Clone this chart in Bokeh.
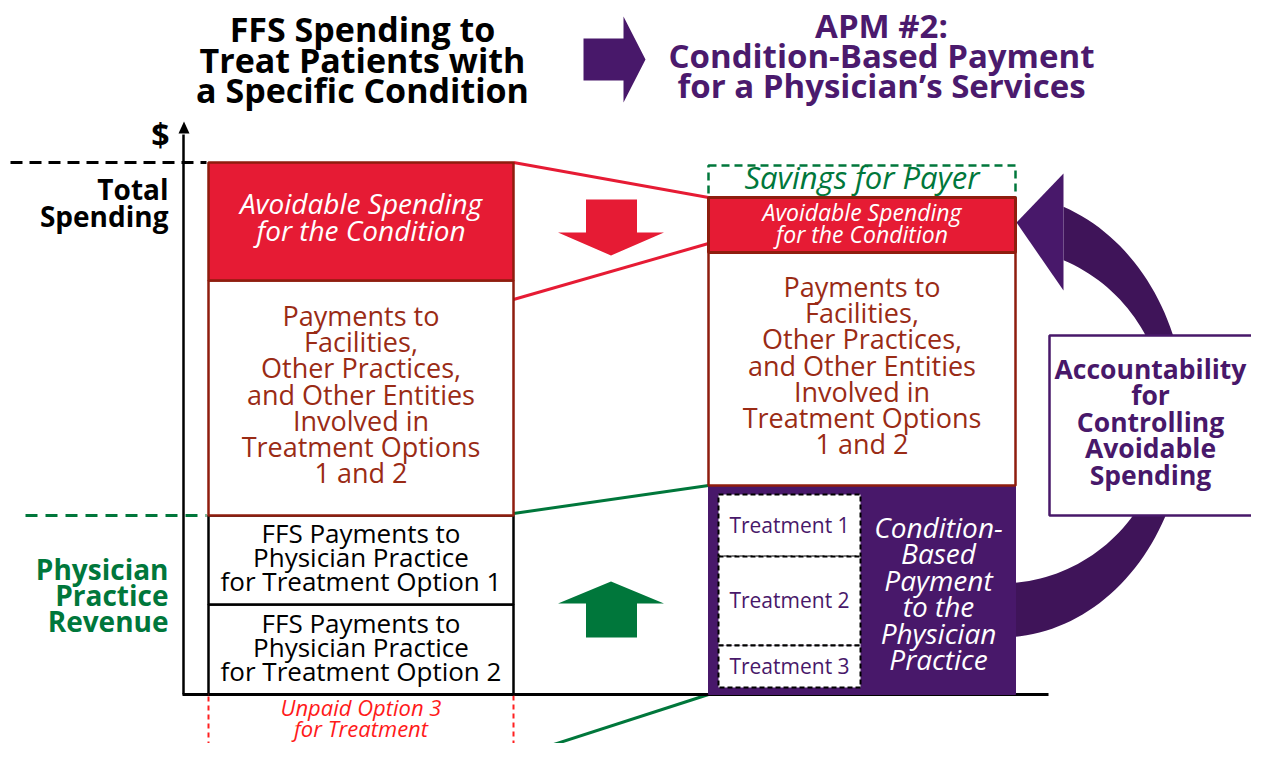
import numpy as np
from bokeh.plotting import figure
from bokeh.models import Range1d
from bokeh.core.properties import value
from bokeh.embed import file_html
from bokeh.resources import INLINE

# ---------------- data (illustrative $ amounts, bottom -> top) ----------------
left_segments = ["FFS Option 2", "FFS Option 1", "Facilities & Other Entities", "Avoidable Spending"]
left_values = [90, 89, 235, 118]
unpaid_option3 = 63                      # shown below the axis (not paid)
right_segments = ["Condition-Based Payment", "Facilities & Other Entities", "Avoidable Spending"]
right_values = [209, 233, 55]
treatment_names = ["Treatment 1", "Treatment 2", "Treatment 3"]   # top -> bottom
treatment_values = [62, 89, 42]

title_left = ["FFS Spending to", "Treat Patients with", "a Specific Condition"]
title_right = ["APM #2:", "Condition-Based Payment", "for a Physician\u2019s Services"]
avoid_lines = ["Avoidable Spending", "for the Condition"]
facility_lines = ["Payments to", "Facilities,", "Other Practices,", "and Other Entities",
                  "Involved in", "Treatment Options", "1 and 2"]
ffs1_lines = ["FFS Payments to", "Physician Practice", "for Treatment Option 1"]
ffs2_lines = ["FFS Payments to", "Physician Practice", "for Treatment Option 2"]
unpaid_lines = ["Unpaid Option 3", "for Treatment"]
cbp_lines = ["Condition-", "Based", "Payment", "to the", "Physician", "Practice"]
account_lines = ["Accountability", "for", "Controlling", "Avoidable", "Spending"]
total_lines = ["Total", "Spending"]
revenue_lines = ["Physician", "Practice", "Revenue"]
savings_label = "Savings for Payer"

# ---------------- colours ----------------
RED = "#e61b34"
BROWN = "#8f1d0e"
BROWN_TXT = "#9a2b15"
GREEN = "#00773b"
PURPLE = "#48186a"
PURPLE_DARK = "#3f1459"
FONT = value("Open Sans")

# ---------------- figure (y = dollars, 1 unit per px) ----------------
p = figure(width=1251, height=743, output_backend="svg", toolbar_location=None,
           x_range=Range1d(0, 1251), y_range=Range1d(-49, 694),
           x_axis_type=None, y_axis_type=None, min_border=0)
p.outline_line_color = None
p.background_fill_color = "white"
p.border_fill_color = "white"

LX0, LX1 = 208, 513        # left column
RX0, RX1 = 708, 1015       # right column

lb = np.concatenate([[0], np.cumsum(left_values)[:-1]])
lt = np.cumsum(left_values)
rb = np.concatenate([[0], np.cumsum(right_values)[:-1]])
rt = np.cumsum(right_values)
total_left = lt[-1]
total_right = rt[-1]
revenue_level = lt[1]


def label(x, yc, lines, size, color, style="normal", lh=None, align="center"):
    n = len(lines)
    lh = lh if lh is not None else size
    yc = yc + 2
    ys = [yc + (n - 1) / 2 * lh - i * lh for i in range(n)]
    p.text(x=[x] * n, y=ys, text=lines, text_font=FONT, text_font_size=f"{size}px",
           text_font_style=style, text_color=color, text_align=align, text_baseline="middle")


# ---------------- curved accountability arrow (behind boxes) ----------------
cx, cy = 1000, total_left - 253
th_o = np.linspace(np.pi / 2, -np.arccos(63 / 185), 80)
th_i = np.linspace(-np.arccos(63 / 165), np.pi / 2, 80)
ax = np.concatenate([cx + 185 * np.cos(th_o), cx + 165 * np.cos(th_i)])
ay = np.concatenate([cy - 222 * np.sin(th_o), cy - 168 * np.sin(th_i)])
p.patch(ax, ay, fill_color=PURPLE_DARK, line_color=None)
tip_y = total_right - 25
p.patch([1016, 1063, 1063], [tip_y, tip_y + 49, tip_y - 68], fill_color=PURPLE, line_color=None)

# accountability box (open to the right edge)
acc_b, acc_t = revenue_level, revenue_level + 180
p.quad(left=[1049], right=[1251], bottom=[acc_b], top=[acc_t], fill_color="white", line_color=None)
p.line([1251, 1049, 1049, 1251], [acc_t, acc_t, acc_b, acc_b], line_color=PURPLE, line_width=2.5)
label(1150, revenue_level + 92, account_lines, 26.5, PURPLE, "bold", lh=26.5)

# ---------------- connectors ----------------
p.line([LX1, RX0], [total_left, total_right], line_color=RED, line_width=3)
p.line([LX1, RX0], [lb[3] - 19, rb[2] + 9], line_color=RED, line_width=3)
p.line([LX1, RX0], [revenue_level + 2, rt[0]], line_color=GREEN, line_width=3)
p.line([LX1, RX0], [-unpaid_option3, 0], line_color=GREEN, line_width=3)

# ---------------- reference lines & axes ----------------
p.line([10, 206], [total_left, total_left], line_color="black", line_width=3, line_dash="12 7")
p.line([25, 206], [revenue_level, revenue_level], line_color=GREEN, line_width=3, line_dash="12 8")
p.line([183, 183], [0, 560], line_color="black", line_width=2.5)
p.patch([178, 189, 183.5], [561, 561, 573], fill_color="black", line_color=None)
p.line([182, 1048], [0, 0], line_color="black", line_width=3)
p.text(x=[160], y=[560], text=["$"], text_font=FONT, text_font_size="32px",
       text_font_style="bold", text_color="black", text_align="center", text_baseline="middle")

# ---------------- left stack ----------------
fills = ["white", "white", "white", RED]
lines_c = ["black", "black", BROWN, BROWN]
for i in range(4):
    p.quad(left=[LX0], right=[LX1], bottom=[lb[i]], top=[lt[i]],
           fill_color=fills[i], line_color=lines_c[i], line_width=2.5)
p.quad(left=[LX0], right=[LX1], bottom=[-unpaid_option3], top=[0],
       fill_color=None, line_color="#ff2020", line_width=2, line_dash="5 4")
p.line([LX0, LX1], [0, 0], line_color="black", line_width=3)

LXC = (LX0 + LX1) / 2
label(LXC, (lb[3] + lt[3]) / 2 + 3, avoid_lines, 28, "white", "italic", lh=27)
label(LXC, (lb[2] + lt[2]) / 2 + 2, facility_lines, 27, BROWN_TXT, lh=26.3)
label(LXC, (lb[1] + lt[1]) / 2 + 1, ffs1_lines, 26, "black", lh=24)
label(LXC, (lb[0] + lt[0]) / 2 + 1, ffs2_lines, 26, "black", lh=24)
label(LXC, -unpaid_option3 / 2 + 7, unpaid_lines, 22, "#ff1a1a", "italic", lh=21)

# ---------------- right stack ----------------
p.quad(left=[RX0], right=[RX1], bottom=[total_right], top=[total_left - 3],
       fill_color=None, line_color=GREEN, line_width=2.5, line_dash="8 5")

p.quad(left=[RX0], right=[RX1], bottom=[rb[0]], top=[rt[0]], fill_color=PURPLE, line_color=PURPLE, line_width=1)
p.quad(left=[RX0], right=[RX1], bottom=[rb[1]], top=[rt[1]], fill_color="white", line_color=BROWN, line_width=2.5)
p.quad(left=[RX0], right=[RX1], bottom=[rb[2]], top=[rt[2]], fill_color=RED, line_color=BROWN, line_width=3)

RXC = (RX0 + RX1) / 2
label(RXC, (total_right + total_left) / 2 + 1, [savings_label], 31, GREEN, "italic")
label(RXC, (rb[2] + rt[2]) / 2, avoid_lines, 23, "white", "italic", lh=22)
label(RXC, (rb[1] + rt[1]) / 2 + 2, facility_lines, 27, BROWN_TXT, lh=26.3)

# treatment boxes inside the condition-based payment
tb_top = rt[0] - 9
t_tops = tb_top - np.concatenate([[0], np.cumsum(treatment_values)[:-1]])
t_bots = t_tops - np.array(treatment_values)
p.quad(left=[718] * 3, right=[860] * 3, bottom=t_bots, top=t_tops,
       fill_color="white", line_color="black", line_width=2, line_dash="5 3")
for nm, tb, tt in zip(treatment_names, t_bots, t_tops):
    label(789, (tb + tt) / 2 - 1, [nm], 21, PURPLE)
label(938, rt[0] / 2 - 5, cbp_lines, 28, "white", "italic", lh=26.5)

# ---------------- block arrows ----------------
AXC = (LX1 + RX0) / 2
p.patch([AXC - 25, AXC + 26, AXC + 26, AXC + 53, AXC, AXC - 53, AXC - 25],
        [495, 495, 462, 462, 439, 462, 462], fill_color=RED, line_color=None)
p.patch([AXC - 25, AXC + 26, AXC + 26, AXC + 53, AXC, AXC - 53, AXC - 25],
        [57, 57, 91, 91, 113, 91, 91], fill_color=GREEN, line_color=None)
p.patch([583, 623, 623, 645, 623, 623, 583],
        [656, 656, 678, 635, 592, 614, 614], fill_color=PURPLE, line_color=None)

# ---------------- titles & side labels ----------------
label(362, 633, title_left, 34, "black", "bold", lh=30.5)
label(881, 637, title_right, 33, "#4b1a6d", "bold", lh=30)
label(168, 490, total_lines, 28, "black", "bold", lh=27, align="right")
label(168, 98, revenue_lines, 28, GREEN, "bold", lh=26, align="right")

open("out.html", "w").write(file_html(p, INLINE))
